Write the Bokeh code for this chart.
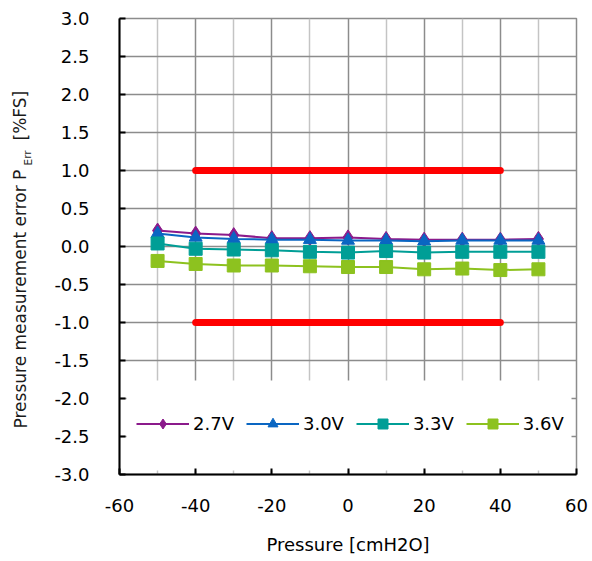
from bokeh.plotting import figure
from bokeh.layouts import row
from bokeh.models import (FixedTicker, PrintfTickFormatter, Legend, LegendItem,
                          Label, Range1d, BoxAnnotation)
from bokeh.embed import file_html
from bokeh.resources import INLINE

# ---- data ----
pressure = [-50, -40, -30, -20, -10, 0, 10, 20, 30, 40, 50]
err_27 = [0.21, 0.17, 0.15, 0.11, 0.11, 0.12, 0.10, 0.09, 0.09, 0.09, 0.10]
err_30 = [0.17, 0.12, 0.10, 0.09, 0.09, 0.08, 0.08, 0.07, 0.08, 0.08, 0.08]
err_33 = [0.04, -0.03, -0.04, -0.05, -0.07, -0.08, -0.06, -0.08, -0.07, -0.07, -0.07]
err_36 = [-0.19, -0.23, -0.25, -0.25, -0.26, -0.27, -0.27, -0.30, -0.29, -0.31, -0.30]
limit_x = [-40, 40]
limit_hi = [1.0, 1.0]
limit_lo = [-1.0, -1.0]
series_names = ["2.7V", "3.0V", "3.3V", "3.6V"]
x_ticks = [-60, -40, -20, 0, 20, 40, 60]
x_minor = [-50, -30, -10, 10, 30, 50]
y_ticks = [-3.0, -2.5, -2.0, -1.5, -1.0, -0.5, 0.0, 0.5, 1.0, 1.5, 2.0, 2.5, 3.0]

FONT = "DejaVu Sans"
X0, X1, Y0, Y1 = -60, 60, -3, 3
FW, FH = 457, 456
TOP, BOTTOM = 18, 87
TOTAL_H = TOP + FH + BOTTOM
LW = 45  # width of the strip holding the rotated y title

p = figure(frame_width=FW, frame_height=FH, min_border_left=119 - LW, min_border_top=TOP,
           min_border_right=16, min_border_bottom=BOTTOM,
           x_range=Range1d(X0, X1), y_range=Range1d(Y0, Y1),
           output_backend="svg", toolbar_location=None)
p.background_fill_color = "white"
p.border_fill_color = "white"
p.outline_line_color = "#8c8c8c"
p.outline_line_width = 1.5

# axes
p.xaxis.ticker = FixedTicker(ticks=x_ticks, minor_ticks=x_minor)
p.xaxis.formatter = PrintfTickFormatter(format="%d")
p.yaxis.ticker = FixedTicker(ticks=y_ticks)
p.yaxis.formatter = PrintfTickFormatter(format="%.1f")
for ax in (p.xaxis[0], p.yaxis[0]):
    ax.axis_line_color = "black"
    ax.axis_line_width = 2
    ax.major_tick_line_color = "black"
    ax.major_tick_line_width = 2
    ax.major_tick_in = 6
    ax.major_tick_out = 0
    ax.minor_tick_in = 0
    ax.minor_tick_out = 0
    ax.major_label_text_font = FONT
    ax.major_label_text_font_size = "18px"
    ax.major_label_text_color = "black"
p.xaxis.major_label_standoff = 24
p.yaxis.major_label_standoff = 30
p.xaxis.axis_label = "Pressure [cmH2O]"
p.xaxis.axis_label_text_font = FONT
p.xaxis.axis_label_text_font_size = "18px"
p.xaxis.axis_label_text_font_style = "normal"
p.xaxis.axis_label_text_color = "black"
p.xaxis.axis_label_standoff = 19
p.yaxis.axis_label = None

# grid
p.xgrid.grid_line_color = "#8c8c8c"
p.xgrid.grid_line_width = 1.5
p.xgrid.minor_grid_line_color = "#c4c4c4"
p.xgrid.minor_grid_line_width = 1.5
p.ygrid.grid_line_color = "#8c8c8c"
p.ygrid.grid_line_width = 1.5

# white panel behind the legend (hides the grid there)
ppx = (X1 - X0) / FW
ppy = (Y1 - Y0) / FH
panel = BoxAnnotation(left=X0 + 7 * ppx, right=X1 - 5 * ppx,
                      bottom=Y0 + 4 * ppy, top=Y0 + 94 * ppy,
                      fill_color="white", fill_alpha=1.0, line_color=None,
                      level="underlay")
p.add_layout(panel)

# limit lines
p.line(limit_x, limit_hi, line_color="#ff0000", line_width=7, line_cap="round")
p.line(limit_x, limit_lo, line_color="#ff0000", line_width=7, line_cap="round")

colors = ["#8B1A8B", "#0A66C2", "#009E96", "#8DC21F"]
markers = ["diamond", "triangle", "square", "square"]
sizes = [15, 13, 13, 13]
data = [err_27, err_30, err_33, err_36]
items = []
for name, ys, c, m, s in zip(series_names, data, colors, markers, sizes):
    lr = p.line(pressure, ys, line_color=c, line_width=2)
    sr = p.scatter(pressure, ys, marker=m, size=s, fill_color=c, line_color=c)
    items.append(LegendItem(label=name, renderers=[lr, sr]))

legend = Legend(items=items, orientation="horizontal", location=(17, 38),
                padding=8, glyph_width=53, glyph_height=25, label_height=25,
                label_standoff=4, spacing=12,
                label_text_font=FONT, label_text_font_size="18px",
                label_text_color="black",
                background_fill_alpha=0.0,
                border_line_color=None)
p.add_layout(legend)

# ---- strip on the left that carries the rotated y title (with subscript) ----
# (its frame is aligned with the main frame: screen y is measured from the frame bottom)
t = figure(width=LW, height=TOTAL_H, x_range=Range1d(0, 1), y_range=Range1d(0, 1),
           min_border=0, x_axis_location=None, y_axis_location=None,
           output_backend="svg", toolbar_location=None)
t.outline_line_color = None
t.grid.visible = False
t.background_fill_color = "white"
t.border_fill_color = "white"
common = dict(x_units="screen", y_units="screen", angle=1.5708, text_align="left",
              text_baseline="middle", text_font=FONT, text_color="#1a1a1a")
t.add_layout(Label(x=20, y=46, text="Pressure measurement error P",
                   text_font_size="17px", **common))
t.add_layout(Label(x=27, y=309, text="Err",
                   text_font_size="10.5px", **common))
t.add_layout(Label(x=20, y=334, text="[%FS]",
                   text_font_size="17px", **common))

layout = row(t, p, spacing=0)
open("out.html", "w").write(file_html(layout, INLINE))
